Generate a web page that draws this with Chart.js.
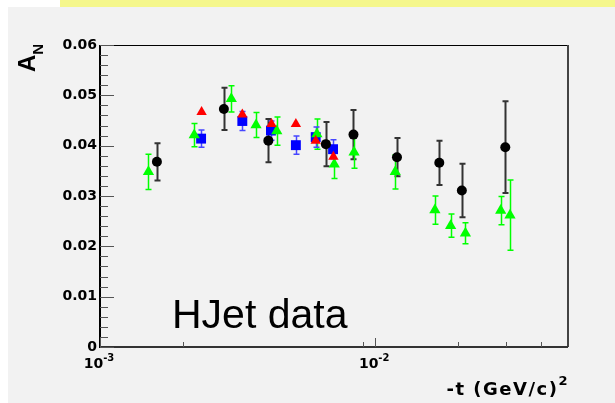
<!DOCTYPE html>
<html>
<head>
<meta charset="utf-8">
<script src="https://cdn.jsdelivr.net/npm/chart.js"></script>
<style>
  body { margin: 0; background: #fff; }
  #band { position: absolute; left: 60px; top: 0; width: 555px; height: 7px; background: #f5f78c; }
  #panel { position: absolute; left: 8px; top: 7px; width: 607px; height: 396px; background: #f2f2f2; }
  #wrap { position: absolute; left: 0; top: 0; width: 615px; height: 403px; }
</style>
</head>
<body>
<div id="band"></div>
<div id="panel"></div>
<div id="wrap"><canvas id="anChart" width="615" height="403"></canvas></div>
<script>
// -t (GeV/c)^2 and A_N for each set
const blackT = [0.00161, 0.00282, 0.00409, 0.00662, 0.00834, 0.0120, 0.0171, 0.02065, 0.0297];
const blackA = [0.0368, 0.0473, 0.0410, 0.0403, 0.0422, 0.0377, 0.0366, 0.0311, 0.0397];
const blackErr = [0.0037, 0.0042, 0.0043, 0.0044, 0.0049, 0.0038, 0.0044, 0.0053, 0.0091];

const greenT = [0.00150, 0.00220, 0.00300, 0.00369, 0.00439, 0.00614, 0.00710, 0.00838, 0.01183, 0.01648, 0.01880, 0.02128, 0.02858, 0.0309];
const greenA = [0.0348, 0.0421, 0.0493, 0.0441, 0.0429, 0.0423, 0.0363, 0.0387, 0.0348, 0.0272, 0.0241, 0.0226, 0.0271, 0.0262];
const greenErr = [0.0035, 0.0023, 0.0026, 0.0025, 0.0028, 0.0030, 0.0028, 0.0032, 0.0034, 0.0028, 0.0023, 0.0021, 0.0028, 0.0070];

const redT = [0.00234, 0.00329, 0.00420, 0.00515, 0.00608, 0.00705];
const redA = [0.0467, 0.0462, 0.0443, 0.0443, 0.0410, 0.0378];

const blueT = [0.00233, 0.00329, 0.00418, 0.00515, 0.00608, 0.00703];
const blueA = [0.0414, 0.0449, 0.0430, 0.0401, 0.0417, 0.0393];
const blueErr = [0.0017, 0.0019, 0.0019, 0.0018, 0.0020, 0.0019];

const yTicks = [0, 0.01, 0.02, 0.03, 0.04, 0.05, 0.06];
const xLabels = [[0.001, "10", "-3"], [0.01, "10", "-2"]];
const xMinor = [0.002, 0.009, 0.02, 0.03, 0.04];

function pts(xs, ys) {
    return xs.map((x, i) => ({ x: x, y: ys[i] }));
}

function supText(ctx, base, sup, x, y, fontB, fontS, rise) {
    ctx.font = fontB;
    let w1 = ctx.measureText(base).width;
    ctx.font = fontS;
    let w2 = ctx.measureText(sup).width;
    return { w: w1 + w2, draw: function (sx) {
        ctx.font = fontB;
        ctx.fillText(base, sx, y);
        ctx.font = fontS;
        ctx.fillText(sup, sx + w1, y - rise);
    } };
}

const rootPlot = {
    id: "rootPlot",
    beforeDatasetsDraw(chart) {
        const ctx = chart.ctx;
        const a = chart.chartArea;
        const xs = chart.scales.x, ys = chart.scales.y;
        ctx.save();
        // frame
        ctx.strokeStyle = "#000";
        ctx.lineWidth = 1;
        ctx.beginPath();
        ctx.moveTo(a.left, a.top + 0.5);
        ctx.lineTo(a.right, a.top + 0.5);
        ctx.stroke();
        ctx.strokeStyle = "#444";
        ctx.lineWidth = 2;
        ctx.beginPath();
        ctx.moveTo(a.right, a.top);
        ctx.lineTo(a.right, a.bottom);
        ctx.stroke();
        ctx.strokeStyle = "#333";
        ctx.beginPath();
        ctx.moveTo(a.left, a.bottom);
        ctx.lineTo(a.right, a.bottom);
        ctx.stroke();
        ctx.strokeStyle = "#000";
        ctx.beginPath();
        ctx.moveTo(a.left, a.top);
        ctx.lineTo(a.left, a.bottom + 1);
        ctx.stroke();

        // y ticks inside the frame
        ctx.strokeStyle = "#555";
        ctx.lineWidth = 1;
        for (let v = 0; v <= 0.0601; v += 0.002) {
            let py = Math.round(ys.getPixelForValue(v)) + 0.5;
            let major = Math.abs(v / 0.01 - Math.round(v / 0.01)) < 1e-6;
            ctx.beginPath();
            ctx.moveTo(a.left, py);
            ctx.lineTo(a.left + (major ? 14 : 8), py);
            ctx.stroke();
        }
        // x ticks
        xLabels.forEach(l => {
            let px = Math.round(xs.getPixelForValue(l[0])) + 0.5;
            ctx.beginPath();
            ctx.moveTo(px, a.bottom);
            ctx.lineTo(px, a.bottom - 9);
            ctx.stroke();
        });
        xMinor.forEach(v => {
            let px = Math.round(xs.getPixelForValue(v)) + 0.5;
            ctx.beginPath();
            ctx.moveTo(px, a.bottom);
            ctx.lineTo(px, a.bottom - 5);
            ctx.stroke();
        });

        // error bars
        chart.data.datasets.forEach((ds, i) => {
            if (!ds.errs) return;
            ctx.strokeStyle = ds.errColor;
            ctx.lineWidth = ds.errWidth;
            ds.data.forEach((p, j) => {
                let px = Math.round(xs.getPixelForValue(p.x)) + 0.5;
                let y1 = ys.getPixelForValue(p.y + ds.errs[j]);
                let y2 = ys.getPixelForValue(p.y - ds.errs[j]);
                ctx.beginPath();
                ctx.moveTo(px, y1);
                ctx.lineTo(px, y2);
                ctx.moveTo(px - 3, y1);
                ctx.lineTo(px + 3, y1);
                ctx.moveTo(px - 3, y2);
                ctx.lineTo(px + 3, y2);
                ctx.stroke();
            });
        });
        ctx.restore();
    },
    afterDraw(chart) {
        const ctx = chart.ctx;
        const a = chart.chartArea;
        const xs = chart.scales.x;
        ctx.save();
        ctx.fillStyle = "#000";
        ctx.textAlign = "left";
        ctx.textBaseline = "alphabetic";

        // x tick labels with exponents
        xLabels.forEach(l => {
            let t = supText(ctx, l[1], l[2], 0, 368, "bold 14px 'DejaVu Sans'", "bold 10px 'DejaVu Sans'", 7);
            t.draw(xs.getPixelForValue(l[0]) - t.w / 2 - 1);
        });

        // x title
        ctx.letterSpacing = "1.5px";
        ctx.font = "bold 18px 'DejaVu Sans'";
        let wMain = ctx.measureText("-t (GeV/c)").width;
        ctx.font = "bold 13px 'DejaVu Sans'";
        let wSup = ctx.measureText("2").width;
        let sx = a.right - wMain - wSup + 1;
        ctx.font = "bold 18px 'DejaVu Sans'";
        ctx.fillText("-t (GeV/c)", sx, 395);
        ctx.font = "bold 13px 'DejaVu Sans'";
        ctx.fillText("2", sx + wMain, 385);
        ctx.letterSpacing = "0px";

        // y title A_N
        ctx.save();
        ctx.translate(35, 72);
        ctx.rotate(-Math.PI / 2);
        ctx.font = "bold 24px 'Liberation Sans'";
        ctx.fillText("A", 0, 0);
        let wA = ctx.measureText("A").width;
        ctx.font = "bold 15px 'Liberation Sans'";
        ctx.fillText("N", wA, 8);
        ctx.restore();

        // overlay label
        ctx.font = "41px 'Liberation Sans'";
        ctx.fillText("HJet data", 172, 328);
        ctx.restore();
    }
};

let ctx = document.getElementById("anChart").getContext("2d");
let anChart = new Chart(ctx, {
    type: "scatter",
    data: {
        datasets: [
            {
                label: "black",
                data: pts(blackT, blackA),
                errs: blackErr, errColor: "#333", errWidth: 2,
                pointStyle: "circle", radius: 5,
                backgroundColor: "#000", borderColor: "#000", borderWidth: 0,
                order: 0,
            },
            {
                label: "red",
                data: pts(redT, redA),
                pointStyle: "triangle", radius: 6,
                backgroundColor: "#ff0000", borderColor: "#ff0000", borderWidth: 0,
                order: 1,
            },
            {
                label: "green",
                data: pts(greenT, greenA),
                errs: greenErr, errColor: "#00ff00", errWidth: 1.5,
                pointStyle: "triangle", radius: 6.5,
                backgroundColor: "#00ff00", borderColor: "#00ff00", borderWidth: 0,
                order: 2,
            },
            {
                label: "blue",
                data: pts(blueT, blueA),
                errs: blueErr, errColor: "#4646ff", errWidth: 1.5,
                pointStyle: "rect", radius: 7,
                backgroundColor: "#0000ff", borderColor: "#0000ff", borderWidth: 0,
                order: 3,
            },
        ],
    },
    options: {
        responsive: false,
        devicePixelRatio: 1,
        animation: false,
        layout: { padding: { top: 45, right: 47, left: 0, bottom: 0 } },
        plugins: { legend: { display: false }, tooltip: { enabled: false } },
        scales: {
            x: {
                type: "logarithmic",
                min: 0.001,
                max: 0.0502,
                grid: { display: false, drawTicks: false },
                border: { display: false },
                ticks: { display: false },
                afterFit: s => { s.height = 56; },
            },
            y: {
                min: 0,
                max: 0.06,
                grid: { display: false, drawTicks: false },
                border: { display: false },
                afterBuildTicks: s => { s.ticks = yTicks.map(v => ({ value: v })); },
                ticks: {
                    padding: 3,
                    color: "#000",
                    font: { family: "DejaVu Sans", weight: "bold", size: 14 },
                    callback: v => v === 0 ? "0" : v.toFixed(2),
                },
                afterFit: s => { s.width = 100; },
            },
        },
    },
    plugins: [rootPlot],
});
</script>
</body>
</html>
